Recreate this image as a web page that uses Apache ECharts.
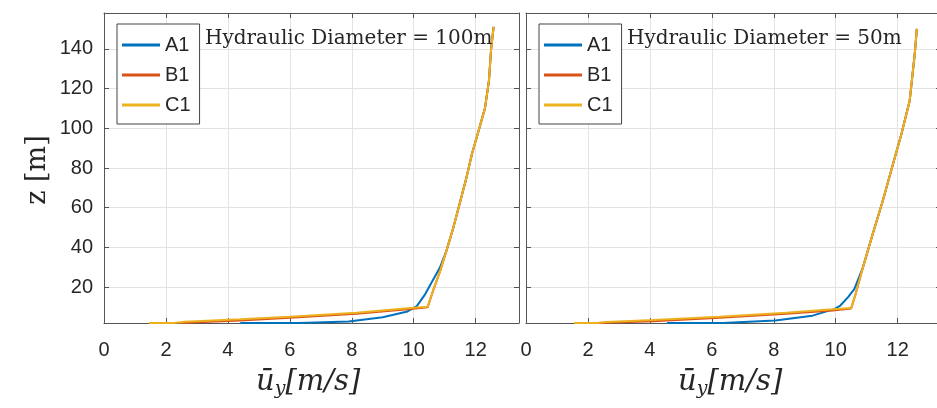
<!DOCTYPE html>
<html>
<head>
<meta charset="utf-8">
<script src="https://cdn.jsdelivr.net/npm/echarts@6/dist/echarts.min.js"></script>
<style>html,body{margin:0;padding:0;background:#fff}#c{width:937px;height:408px}</style>
</head>
<body>
<div id="c"></div>
<script>
// ---- data (u [m/s], z [m]) ----
const seriesNames = ['A1', 'B1', 'C1'];
const panelTitles = ['Hydraulic Diameter = 100m', 'Hydraulic Diameter = 50m'];
const xTicks = [0, 2, 4, 6, 8, 10, 12];
const yTicks = [20, 40, 60, 80, 100, 120, 140];

const left_A1 = [[4.4,2],[6.3,2],[7.9,2.8],[9.0,4.9],[9.8,7.8],[10.1,10.5],[10.35,16],[10.6,23],[10.85,30],[11.05,38],[11.28,50],[11.5,63],[11.7,75],[11.88,87],[12.1,99],[12.3,110],[12.43,124],[12.5,140],[12.58,151]];
const left_B1 = [[2.45,2],[4.4,3.3],[6.0,4.6],[8.15,6.6],[9.9,9.0],[10.45,9.9],[10.62,18],[10.85,28],[11.05,38],[11.28,50],[11.5,63],[11.7,75],[11.88,87],[12.1,99],[12.3,110],[12.43,124],[12.5,140],[12.58,151]];
const left_C1 = [[1.45,2],[2.25,2],[2.6,2.6],[4.4,3.9],[6.0,5.2],[8.15,7.2],[9.9,9.5],[10.45,10.2],[10.62,18],[10.85,28],[11.05,38],[11.28,50],[11.5,63],[11.7,75],[11.88,87],[12.1,99],[12.3,110],[12.43,124],[12.5,140],[12.58,151]];

const right_A1 = [[4.55,2],[6.35,2],[8.05,3.2],[9.25,5.7],[9.95,9.0],[10.15,10.8],[10.4,15],[10.6,19],[10.88,30],[11.2,47],[11.53,64],[11.85,82],[12.12,97],[12.39,114],[12.55,137],[12.62,150]];
const right_B1 = [[2.3,2],[4.1,2.9],[6.25,4.6],[8.4,6.6],[9.9,8.3],[10.5,9.3],[10.65,17],[10.88,30],[11.2,47],[11.53,64],[11.85,82],[12.12,97],[12.39,114],[12.55,137],[12.62,150]];
const right_C1 = [[1.55,2],[2.3,2],[2.6,2.5],[4.1,3.5],[6.25,5.2],[8.4,7.2],[9.9,8.9],[10.5,9.6],[10.65,17],[10.88,30],[11.2,47],[11.53,64],[11.85,82],[12.12,97],[12.39,114],[12.55,137],[12.62,150]];

const panels = [[left_A1, left_B1, left_C1], [right_A1, right_B1, right_C1]];
const colors = ['#0072BD', '#D95319', '#EDB120'];
const X_MIN = 0, X_MAX = 13.4, Y_MIN = 2, Y_MAX = 158;

// ---- chart ----
const chart = echarts.init(document.getElementById('c'), null, { renderer: 'canvas' });
const gridLefts = [104, 526];
const axisCol = '#555';
const grids = [], xAxes = [], yAxes = [], series = [], legends = [], graphics = [];

gridLefts.forEach((gl, p) => {
  grids.push({ left: gl, top: 13, width: 415, height: 310, outerBoundsMode: 'none', containLabel: false });
  xAxes.push({
    type: 'value', gridIndex: p, min: X_MIN, max: X_MAX, position: 'bottom',
    axisLine: { show: true, onZero: false, lineStyle: { color: axisCol, width: 1 } },
    axisTick: { show: true, inside: true, length: 5, customValues: xTicks, lineStyle: { color: axisCol } },
    axisLabel: { show: true, customValues: xTicks, margin: 17, color: '#262626', fontSize: 20, fontFamily: 'Liberation Sans' },
    splitLine: { show: true, lineStyle: { color: '#e3e3e3', width: 1 } }
  });
  xAxes.push({
    type: 'value', gridIndex: p, min: X_MIN, max: X_MAX, position: 'top',
    axisLine: { show: true, onZero: false, lineStyle: { color: axisCol, width: 1 } },
    axisTick: { show: true, inside: true, length: 5, customValues: xTicks, lineStyle: { color: axisCol } },
    axisLabel: { show: false }, splitLine: { show: false }
  });
  yAxes.push({
    type: 'value', gridIndex: p, min: Y_MIN, max: Y_MAX, position: 'left',
    axisLine: { show: true, onZero: false, lineStyle: { color: axisCol, width: 1 } },
    axisTick: { show: true, inside: true, length: 5, customValues: yTicks, lineStyle: { color: axisCol } },
    axisLabel: { show: p === 0, customValues: yTicks, margin: 11, color: '#262626', fontSize: 20, fontFamily: 'Liberation Sans' },
    splitLine: { show: true, lineStyle: { color: '#e3e3e3', width: 1 } }
  });
  yAxes.push({
    type: 'value', gridIndex: p, min: Y_MIN, max: Y_MAX, position: 'right',
    axisLine: { show: true, onZero: false, lineStyle: { color: axisCol, width: 1 } },
    axisTick: { show: true, inside: true, length: 5, customValues: yTicks, lineStyle: { color: axisCol } },
    axisLabel: { show: false }, splitLine: { show: false }
  });

  panels[p].forEach((d, i) => {
    series.push({
      type: 'line', name: seriesNames[i], xAxisIndex: p * 2, yAxisIndex: p * 2,
      data: d, symbol: 'none', smooth: false, clip: true,
      lineStyle: { color: colors[i], width: 2 }, itemStyle: { color: colors[i] },
      z: 2 + i
    });
  });

  legends.push({
    data: seriesNames, orient: 'vertical', left: gl + 13, top: 24,
    icon: 'rect', itemWidth: 38, itemHeight: 3, itemGap: 10,
    padding: [11, 9, 9, 5], backgroundColor: '#fff', borderColor: '#444', borderWidth: 1,
    textStyle: { fontSize: 20, color: '#262626', fontFamily: 'Liberation Sans' },
    selectedMode: false
  });

  graphics.push({
    type: 'text', left: gl + 101, top: 29, z: 10,
    style: { text: panelTitles[p], fontSize: 20, fontFamily: 'DejaVu Serif', fill: '#262626' }
  });
  graphics.push({
    type: 'text', left: gl + 152, top: 368, z: 10,
    style: {
      text: '{u|ū}{s|y}{n|[m/s]}',
      rich: {
        u: { fontSize: 29, fontStyle: 'italic', fontFamily: 'DejaVu Serif', fill: '#262626' },
        s: { fontSize: 19, fontStyle: 'italic', fontFamily: 'DejaVu Serif', fill: '#262626', padding: [14, 0, 0, 0] },
        n: { fontSize: 29, fontStyle: 'italic', fontFamily: 'DejaVu Serif', fill: '#262626' }
      }
    }
  });
});

graphics.push({
  type: 'text', x: 38, y: 170, rotation: Math.PI / 2, z: 10,
  style: { text: 'z [m]', fontSize: 27, fontFamily: 'DejaVu Serif', fill: '#262626', align: 'center', verticalAlign: 'middle' }
});

chart.setOption({
  animation: false,
  backgroundColor: '#fff',
  grid: grids, xAxis: xAxes, yAxis: yAxes, series: series, legend: legends, graphic: graphics
});
</script>
</body>
</html>
